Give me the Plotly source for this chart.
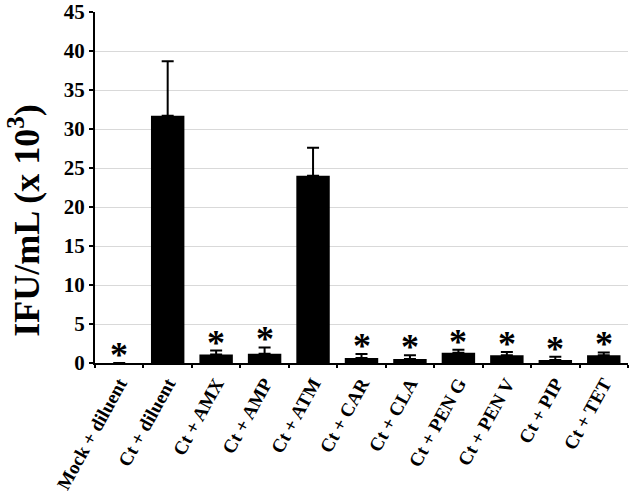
import plotly.graph_objects as go

categories = ["Mock + diluent", "Ct + diluent", "Ct + AMX", "Ct + AMP", "Ct + ATM",
              "Ct + CAR", "Ct + CLA", "Ct + PEN G", "Ct + PEN V", "Ct + PIP", "Ct + TET"]
values = [0.0, 31.7, 1.1, 1.2, 24.0, 0.65, 0.5, 1.3, 1.0, 0.4, 1.0]
errors = [0.0, 7.0, 0.5, 0.8, 3.6, 0.5, 0.5, 0.4, 0.4, 0.4, 0.35]
significant = [True, False, True, True, False, True, True, True, True, True, True]
y_ticks = [0, 5, 10, 15, 20, 25, 30, 35, 40, 45]
y_title = "<b>IFU/mL (x 10<sup>3</sup>)</b>"

FONT = "Liberation Serif"

fig = go.Figure()
fig.add_trace(go.Bar(
    x=categories, y=values,
    marker=dict(color="black", line=dict(width=0)),
    width=0.69,
    error_y=dict(type="data", array=errors, arrayminus=[0]*len(errors), symmetric=False,
                 color="black", thickness=2, width=6),
    showlegend=False,
))

for c, v, e, s in zip(categories, values, errors, significant):
    if s:
        fig.add_annotation(
            x=c, y=v + e, text="<b>*</b>", showarrow=False,
            yanchor="bottom", yshift=-14,
            font=dict(family=FONT, size=36, color="black"),
        )

fig.add_annotation(
    xref="paper", yref="paper", x=0, y=0.405, xshift=-70,
    xanchor="center", yanchor="middle", textangle=-90, showarrow=False,
    text=y_title, font=dict(family=FONT, size=36, color="black"),
)

fig.update_layout(
    width=630, height=495,
    margin=dict(l=95, r=2, t=12, b=132),
    plot_bgcolor="white", paper_bgcolor="white",
    font=dict(family=FONT, color="black"),
)
fig.update_xaxes(
    type="category", tickangle=-61, tickson="boundaries",
    tickvals=categories, ticktext=["<b>%s</b>" % c for c in categories],
    ticks="outside", ticklen=3, tickwidth=1.5, tickcolor="black",
    showline=True, linecolor="black", linewidth=2,
    tickfont=dict(family=FONT, size=19, color="black"),
    showgrid=False, range=[-0.5, len(categories) - 0.5], automargin=False,
)
fig.update_yaxes(
    range=[0, 45], tickvals=y_ticks, ticktext=["<b>%d</b>" % t for t in y_ticks],
    ticks="outside", ticklen=4, tickwidth=1.5, tickcolor="black",
    showline=True, linecolor="black", linewidth=2,
    showgrid=True, gridcolor="#d9d9d9", gridwidth=1,
    tickfont=dict(family=FONT, size=21, color="black"),
    zeroline=False, automargin=False,
)

fig.write_html("out.html", config={"displayModeBar": False},
               post_script="document.body.style.margin='0px';")
